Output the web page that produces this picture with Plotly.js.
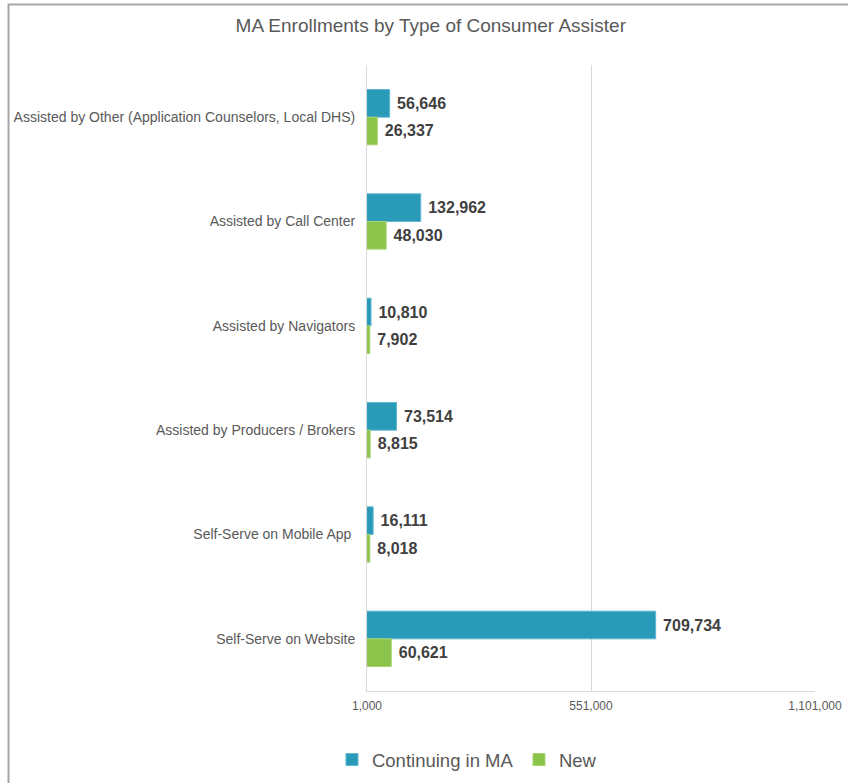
<!DOCTYPE html>
<html>
<head>
<meta charset="utf-8">
<script src="https://cdn.plot.ly/plotly-3.0.1.min.js"></script>
<style>
  html, body { margin: 0; padding: 0; background: #fff; }
  #chart { width: 848px; height: 783px; }
</style>
</head>
<body>
<div id="chart"></div>
<script>
// Categories, top to bottom
const categories = [
    'Assisted by Other (Application Counselors, Local DHS)',
    'Assisted by Call Center',
    'Assisted by Navigators',
    'Assisted by Producers / Brokers',
    'Self-Serve on Mobile App ',
    'Self-Serve on Website'
];

// Enrollment counts
const continuingValues = [56646, 132962, 10810, 73514, 16111, 709734];
const newValues = [26337, 48030, 7902, 8815, 8018, 60621];

// Axis ticks
const xTickValues = [1000, 551000, 1101000];

const labelFont = { family: 'Liberation Sans, Arial, sans-serif', size: 16, color: '#404040', weight: 'bold' };
// leading nbsp gives the small gap between bar end and label
const fmt = v => '\u00a0' + v.toLocaleString('en-US');

const traces = [
    {
        type: 'bar',
        orientation: 'h',
        name: 'Continuing in MA',
        y: categories,
        x: continuingValues,
        marker: { color: '#2A9AB9', line: { color: '#5FB6CE', width: 1 } },
        text: continuingValues.map(fmt),
        textposition: 'outside',
        textfont: labelFont,
        cliponaxis: false,
        hoverinfo: 'x+name'
    },
    {
        type: 'bar',
        orientation: 'h',
        name: 'New',
        y: categories,
        x: newValues,
        marker: { color: '#8CC34A', line: { color: '#A8D474', width: 1 } },
        text: newValues.map(fmt),
        textposition: 'outside',
        textfont: labelFont,
        cliponaxis: false,
        hoverinfo: 'x+name'
    }
];

const layout = {
    width: 848,
    height: 783,
    title: {
        text: 'MA Enrollments by Type of Consumer Assister',
        font: { family: 'Liberation Sans, Arial, sans-serif', size: 19, color: '#595959' },
        x: 0.508,
        xanchor: 'center',
        xref: 'container',
        y: 0.968,
        yanchor: 'middle',
        yref: 'container'
    },
    paper_bgcolor: '#ffffff',
    plot_bgcolor: '#ffffff',
    font: { family: 'Liberation Sans, Arial, sans-serif', color: '#595959' },
    barmode: 'group',
    bargap: 0.47,
    bargroupgap: 0,
    margin: { l: 367, r: 33, t: 65, b: 92, autoexpand: false },
    xaxis: {
        range: [1000, 1101000],
        tickvals: xTickValues,
        ticktext: xTickValues.map(v => v.toLocaleString('en-US')),
        tickfont: { size: 12, color: '#595959' },
        ticklabelstandoff: 4,
        showgrid: true,
        gridcolor: '#d9d9d9',
        gridwidth: 1,
        zeroline: false,
        showline: true,
        linecolor: '#d9d9d9',
        linewidth: 1,
        ticks: '',
        fixedrange: true
    },
    yaxis: {
        autorange: 'reversed',
        tickfont: { size: 14, color: '#595959' },
        showline: true,
        linecolor: '#d9d9d9',
        linewidth: 1,
        ticks: '',
        ticklabelstandoff: 8,
        showgrid: false,
        zeroline: false,
        fixedrange: true
    },
    legend: {
        orientation: 'h',
        xref: 'container',
        yref: 'container',
        x: 0.612,
        xanchor: 'center',
        y: 0.0294,
        yanchor: 'middle',
        font: { size: 18.5, color: '#595959' },
        itemwidth: 30,
        entrywidth: 142,
        traceorder: 'normal'
    },
    // chart area outline (decorative)
    shapes: [
        {
            type: 'rect',
            xref: 'paper', yref: 'paper',
            x0: -0.8002, x1: 1.1,
            y0: -0.2, y1: 1.0966,
            line: { color: '#a6a6a6', width: 2 },
            fillcolor: 'rgba(0,0,0,0)',
            layer: 'below'
        }
    ],
    showlegend: true
};

Plotly.newPlot('chart', traces, layout, { displayModeBar: false, staticPlot: true });
</script>
</body>
</html>
